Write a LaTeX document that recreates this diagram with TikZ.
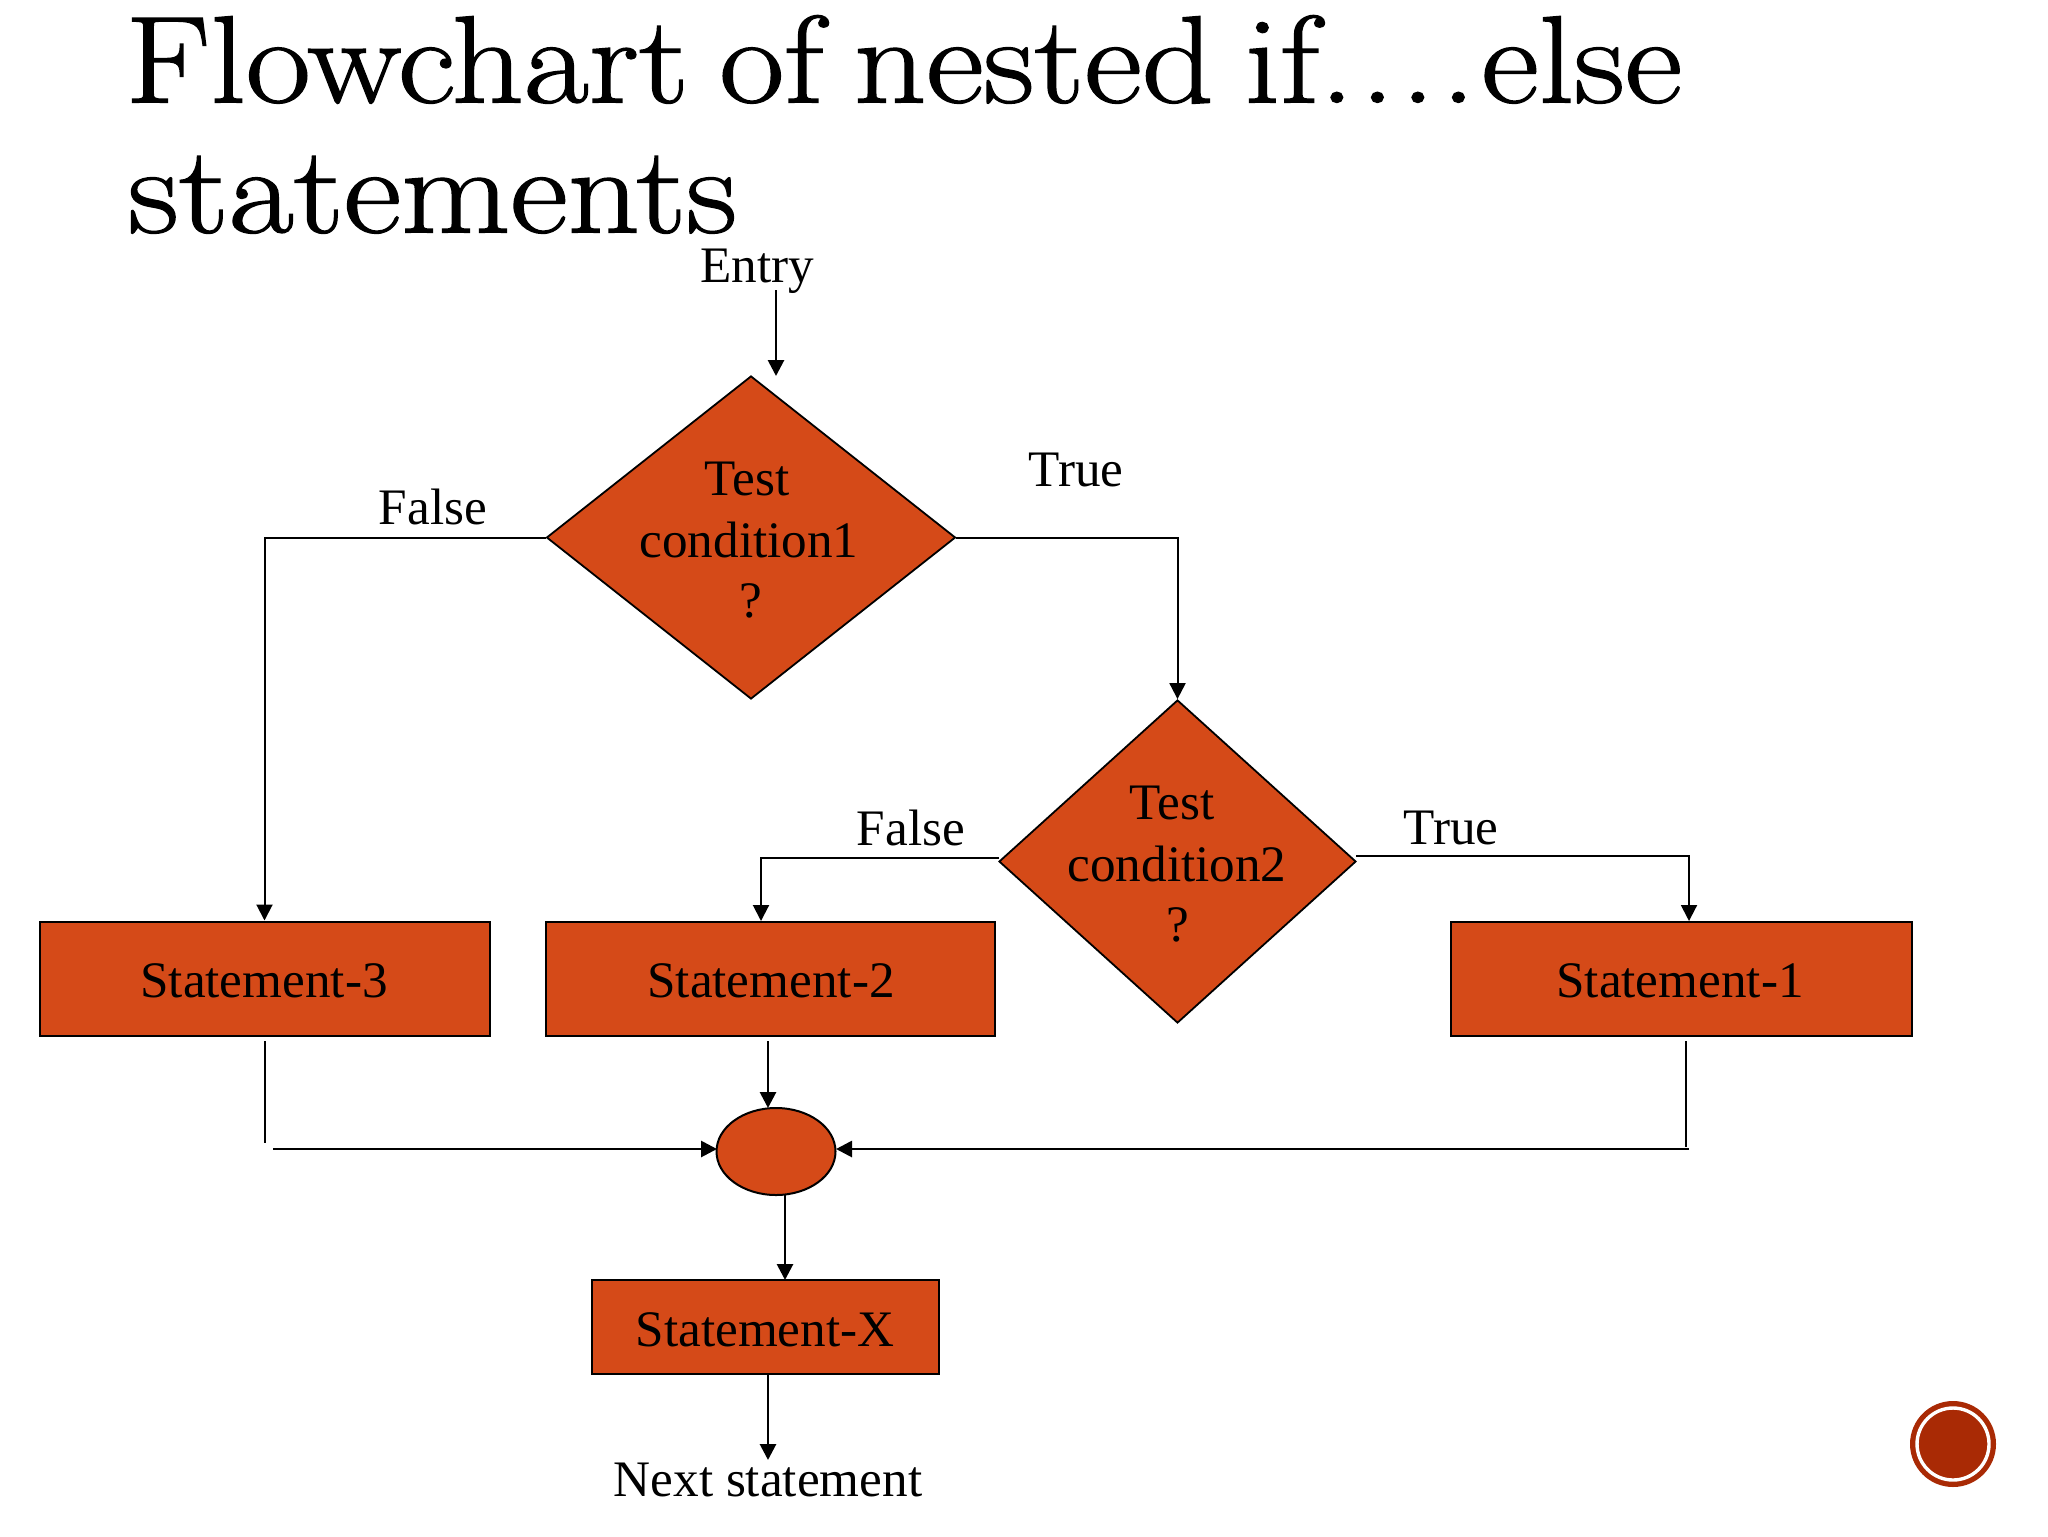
\documentclass[tikz,border=0pt]{standalone}
\usepackage{fontspec}
\newfontfamily\labfont{Liberation Serif}
\newfontfamily\titlefont{Latin Modern Roman}[FakeStretch=1.14,FakeBold=1.2,WordSpace=0.72]
\usetikzlibrary{shapes.geometric,arrows.meta}
\definecolor{rust}{HTML}{D54A18}
\definecolor{badge}{HTML}{A92A05}
\tikzset{
  flowline/.style={line width=1pt,black},
  arr/.style={flowline,-{Triangle[length=8pt,width=8pt]}},
  arrheavy/.style={arr,line width=1.4pt},
  thin line/.style={line width=.8pt,black},
  box/.style={draw=black,line width=1pt,fill=rust,rectangle,inner sep=0pt},
  cond/.style={draw=black,line width=.9pt,fill=rust,diamond,inner sep=0pt},
  lab/.style={font=\labfont\fontsize{25.6}{30}\selectfont,inner sep=0pt,text=black},
  heading/.style={font=\titlefont\fontsize{62}{65}\selectfont,align=left,inner sep=0pt,anchor=north west}
}
\begin{document}
\begin{tikzpicture}[x=.5pt,y=-.5pt]
\useasboundingbox (0,0) rectangle (2048,1536);
\fill[white] (0,0) rectangle (2048,1536);
\node[heading] (title) at (125,15) {Flowchart of nested if.\kern2.6pt.\kern2.6pt.\kern2.6pt.\kern2.6pt else\\\hspace{1.3pt}statements};
\node[lab] (entry) at (757,271) {Entry};
\coordinate (entryout) at (776,290);
\coordinate (entryin) at (776,376);
\node[cond,minimum width=204.5pt,minimum height=161.5pt,aspect=1.266] (d1) at (751,537.5) {};
\node[lab] at (747,479) {Test};
\node[lab] at (749,540) {condition1};
\node[lab] at (751,601) {?};
\node[cond,minimum width=178.5pt,minimum height=161.5pt,aspect=1.105] (d2) at (1177.5,861.5) {};
\node[lab] at (1172,803) {Test};
\node[lab] at (1177,864) {condition2};
\node[lab] at (1178,925) {?};
\node[box,minimum width=225pt,minimum height=57pt] (s3) at (264.5,978.5) {};
\node[box,minimum width=224.5pt,minimum height=57pt] (s2) at (770.5,978.5) {};
\node[box,minimum width=230.5pt,minimum height=57pt] (s1) at (1681.5,978.5) {};
\node[lab] at (264,981) {Statement-3};
\node[lab] at (771,981) {Statement-2};
\node[lab] at (1680,981) {Statement-1};
\node[draw=black,line width=1pt,fill=rust,ellipse,minimum width=59.5pt,minimum height=43.5pt,inner sep=0pt] (join) at (776,1151.5) {};
\node[box,minimum width=173.5pt,minimum height=47pt] (sx) at (765,1327) {};
\node[lab] at (765,1330) {Statement-X};
\node[lab] (next) at (768,1480) {Next statement};
\node[lab] at (433,507) {False};
\node[lab] at (1076,470) {True};
\node[lab] at (911,828) {False};
\node[lab] at (1451,828) {True};
% free ends
\coordinate (s2in) at (761,921);
\coordinate (s1in) at (1689,921);
\coordinate (s3a) at (265,1041);
\coordinate (s3b) at (265,1143);
\coordinate (s3c) at (273,1149);
\coordinate (joinl) at (717,1149);
\coordinate (s2a) at (768,1041);
\coordinate (joint) at (768,1108);
\coordinate (joinb) at (785,1195);
\coordinate (sxt) at (785,1280);
\coordinate (s1a) at (1686,1041);
\coordinate (s1b) at (1686,1147);
\coordinate (s1c) at (1689,1149);
\coordinate (joinr) at (836,1149);
\coordinate (sxa) at (768,1374);
\coordinate (nexta) at (768,1460);
\coordinate (d2l) at (999,858);
\coordinate (d2r) at (1356,856);
% connectors
\draw[arrheavy] (entryout) -- (entryin);
\draw[arr] (d1.west) -| (s3.north);
\draw[arr] (d1.east) -| (d2.north);
\draw[arr] (d2l) -| (s2in);
\draw[arr] (d2r) -| (s1in);
\draw[thin line] (s3a) -- (s3b);
\draw[arrheavy] (s3c) -- (joinl);
\draw[arrheavy] (s2a) -- (joint);
\draw[thin line] (s1a) -- (s1b);
\draw[arrheavy] (s1c) -- (joinr);
\draw[arrheavy] (joinb) -- (sxt);
\draw[arrheavy] (sxa) -- (nexta);
% badge
\node[circle,fill=badge,minimum size=43pt,inner sep=0pt] (bo) at (1953,1444) {};
\node[circle,draw=white,line width=1.7pt,minimum size=36pt,inner sep=0pt] (bi) at (1953,1444) {};
\end{tikzpicture}
\end{document}
